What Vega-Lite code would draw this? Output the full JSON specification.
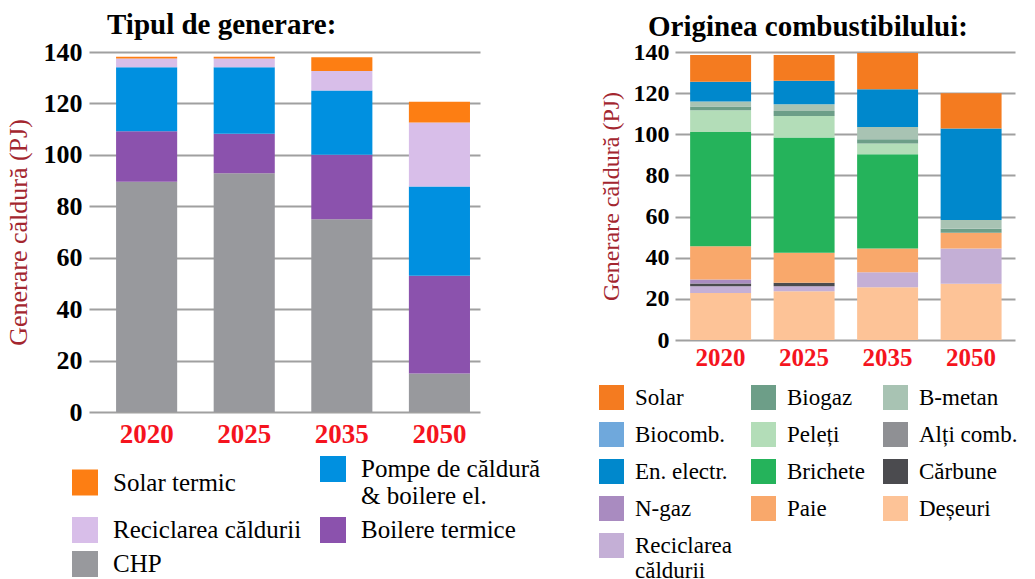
{
  "$schema": "https://vega.github.io/schema/vega-lite/v6.json",
  "autosize": {"type": "pad"},
  "padding": {"left": 5, "top": 11, "right": 0, "bottom": 0},
  "background": "white",
  "config": {
    "view": {"stroke": null},
    "font": "Liberation Serif",
    "axis": {"labelFont": "Liberation Serif", "titleFont": "Liberation Serif"},
    "legend": {"labelFont": "Liberation Serif"},
    "title": {"font": "Liberation Serif"}
  },
  "datasets": {
    "gen": [
      {"year": "2020", "type": "CHP", "rank": 1, "value": 89.5},
      {"year": "2020", "type": "Boilere termice", "rank": 2, "value": 19.7},
      {"year": "2020", "type": "Pompe de căldură & boilere el.", "rank": 3, "value": 24.9},
      {"year": "2020", "type": "Reciclarea căldurii", "rank": 4, "value": 3.4},
      {"year": "2020", "type": "Solar termic", "rank": 5, "value": 0.7},
      {"year": "2025", "type": "CHP", "rank": 1, "value": 92.8},
      {"year": "2025", "type": "Boilere termice", "rank": 2, "value": 15.4},
      {"year": "2025", "type": "Pompe de căldură & boilere el.", "rank": 3, "value": 25.9},
      {"year": "2025", "type": "Reciclarea căldurii", "rank": 4, "value": 3.4},
      {"year": "2025", "type": "Solar termic", "rank": 5, "value": 0.7},
      {"year": "2035", "type": "CHP", "rank": 1, "value": 75.0},
      {"year": "2035", "type": "Boilere termice", "rank": 2, "value": 25.0},
      {"year": "2035", "type": "Pompe de căldură & boilere el.", "rank": 3, "value": 25.0},
      {"year": "2035", "type": "Reciclarea căldurii", "rank": 4, "value": 7.6},
      {"year": "2035", "type": "Solar termic", "rank": 5, "value": 5.4},
      {"year": "2050", "type": "CHP", "rank": 1, "value": 15.0},
      {"year": "2050", "type": "Boilere termice", "rank": 2, "value": 38.0},
      {"year": "2050", "type": "Pompe de căldură & boilere el.", "rank": 3, "value": 34.7},
      {"year": "2050", "type": "Reciclarea căldurii", "rank": 4, "value": 24.9},
      {"year": "2050", "type": "Solar termic", "rank": 5, "value": 8.1}
    ],
    "fuel": [
      {"year": "2020", "type": "Deșeuri", "rank": 1, "value": 22.9},
      {"year": "2020", "type": "Reciclarea căldurii", "rank": 2, "value": 3.2},
      {"year": "2020", "type": "Cărbune", "rank": 3, "value": 1.4},
      {"year": "2020", "type": "N-gaz", "rank": 4, "value": 1.9},
      {"year": "2020", "type": "Paie", "rank": 5, "value": 16.2},
      {"year": "2020", "type": "Brichete", "rank": 6, "value": 55.5},
      {"year": "2020", "type": "Peleți", "rank": 7, "value": 10.6},
      {"year": "2020", "type": "Biogaz", "rank": 8, "value": 1.8},
      {"year": "2020", "type": "B-metan", "rank": 9, "value": 2.4},
      {"year": "2020", "type": "En. electr.", "rank": 12, "value": 9.6},
      {"year": "2020", "type": "Solar", "rank": 13, "value": 13.0},
      {"year": "2025", "type": "Deșeuri", "rank": 1, "value": 23.7},
      {"year": "2025", "type": "Reciclarea căldurii", "rank": 2, "value": 2.4},
      {"year": "2025", "type": "Cărbune", "rank": 3, "value": 1.7},
      {"year": "2025", "type": "Paie", "rank": 5, "value": 14.6},
      {"year": "2025", "type": "Brichete", "rank": 6, "value": 56.0},
      {"year": "2025", "type": "Peleți", "rank": 7, "value": 10.5},
      {"year": "2025", "type": "Biogaz", "rank": 8, "value": 2.4},
      {"year": "2025", "type": "B-metan", "rank": 9, "value": 3.3},
      {"year": "2025", "type": "En. electr.", "rank": 12, "value": 11.4},
      {"year": "2025", "type": "Solar", "rank": 13, "value": 12.5},
      {"year": "2035", "type": "Deșeuri", "rank": 1, "value": 25.6},
      {"year": "2035", "type": "Reciclarea căldurii", "rank": 2, "value": 7.3},
      {"year": "2035", "type": "Paie", "rank": 5, "value": 11.6},
      {"year": "2035", "type": "Brichete", "rank": 6, "value": 45.8},
      {"year": "2035", "type": "Peleți", "rank": 7, "value": 5.2},
      {"year": "2035", "type": "Biogaz", "rank": 8, "value": 2.1},
      {"year": "2035", "type": "B-metan", "rank": 9, "value": 6.0},
      {"year": "2035", "type": "En. electr.", "rank": 12, "value": 18.3},
      {"year": "2035", "type": "Solar", "rank": 13, "value": 17.6},
      {"year": "2050", "type": "Deșeuri", "rank": 1, "value": 27.4},
      {"year": "2050", "type": "Reciclarea căldurii", "rank": 2, "value": 17.1},
      {"year": "2050", "type": "Paie", "rank": 5, "value": 7.6},
      {"year": "2050", "type": "Biogaz", "rank": 8, "value": 2.0},
      {"year": "2050", "type": "B-metan", "rank": 9, "value": 4.2},
      {"year": "2050", "type": "En. electr.", "rank": 12, "value": 44.5},
      {"year": "2050", "type": "Solar", "rank": 13, "value": 17.2}
    ]
  },
  "bounds": "flush",
  "spacing": 195,
  "resolve": {"scale": {"color": "independent", "x": "independent", "y": "independent"}},
  "hconcat": [
    {
      "width": 391,
      "height": 360,
      "data": {"name": "gen"},
      "title": {"text": "Tipul de generare:", "anchor": "start", "frame": "group", "dx": 18, "offset": -24, "baseline": "alphabetic", "fontSize": 29, "fontWeight": "bold", "color": "black"},
      "mark": {"type": "bar"},
      "encoding": {
        "x": {
          "field": "year", "type": "nominal",
          "scale": {"paddingInner": 0.374, "paddingOuter": 0.19, "align": 0.73},
          "axis": {"title": null, "labelAngle": 0, "labelColor": "#f5141e", "labelFontSize": 27, "labelFontWeight": "bold", "domain": false, "ticks": false, "labelPadding": 9}
        },
        "y": {
          "field": "value", "type": "quantitative", "stack": "zero",
          "scale": {"domain": [0, 140], "nice": false},
          "axis": {"values": [0, 20, 40, 60, 80, 100, 120, 140], "title": "Generare căldură (PJ)", "titleColor": "#a3262f", "titleFontSize": 26, "titleFontWeight": "normal", "titlePadding": 12, "labelFontSize": 26, "labelFontWeight": "bold", "labelColor": "black", "domain": false, "ticks": false, "labelPadding": 7, "gridColor": "#a0a0a0", "gridWidth": 2}
        },
        "color": {
          "field": "type", "type": "nominal",
          "scale": {
            "domain": ["Solar termic", "Pompe de căldură & boilere el.", "Reciclarea căldurii", "Boilere termice", "CHP"],
            "range": ["#fd7e13", "#0090e0", "#d8bee9", "#8b52ad", "#98999d"]
          },
          "legend": {
            "orient": "none", "legendX": -17, "legendY": 404, "title": null, "columns": 2, "direction": "horizontal", "padding": 0,
            "symbolType": "square", "symbolSize": 676, "symbolStrokeWidth": 0, "symbolOpacity": 1,
            "labelFontSize": 25, "labelColor": "black", "labelOffset": 15, "labelLimit": 400,
            "columnPadding": 18, "rowPadding": 8,
            "labelExpr": "datum.label == 'Pompe de căldură & boilere el.' ? ['Pompe de căldură', '& boilere el.'] : datum.label"
          }
        },
        "order": {"field": "rank", "type": "quantitative"}
      }
    },
    {
      "width": 340,
      "height": 288,
      "data": {"name": "fuel"},
      "title": {"text": "Originea combustibilului:", "anchor": "start", "frame": "group", "dx": -27, "offset": -25, "baseline": "alphabetic", "fontSize": 29, "fontWeight": "bold", "color": "black"},
      "mark": {"type": "bar"},
      "encoding": {
        "x": {
          "field": "year", "type": "nominal",
          "scale": {"paddingInner": 0.27, "paddingOuter": 0.171, "align": 0.53},
          "axis": {"title": null, "labelAngle": 0, "labelColor": "#f5141e", "labelFontSize": 25, "labelFontWeight": "bold", "domain": false, "ticks": false, "labelPadding": 5}
        },
        "y": {
          "field": "value", "type": "quantitative", "stack": "zero",
          "scale": {"domain": [0, 140], "nice": false},
          "axis": {"values": [0, 20, 40, 60, 80, 100, 120, 140], "title": "Generare căldură (PJ)", "titleColor": "#a3262f", "titleFontSize": 24, "titleFontWeight": "normal", "titlePadding": 10, "labelFontSize": 24, "labelFontWeight": "bold", "labelColor": "black", "domain": false, "ticks": false, "labelPadding": 6, "gridColor": "#a0a0a0", "gridWidth": 2}
        },
        "color": {
          "field": "type", "type": "nominal",
          "scale": {
            "domain": ["Solar", "Biogaz", "B-metan", "Biocomb.", "Peleți", "Alți comb.", "En. electr.", "Brichete", "Cărbune", "N-gaz", "Paie", "Deșeuri", "Reciclarea căldurii"],
            "range": ["#f47b20", "#6d9e88", "#a8c3b3", "#6fa8dc", "#b3ddb8", "#8f9094", "#0088cc", "#25b35b", "#4b4b4f", "#a98bc0", "#f9a86b", "#fdc397", "#c4afd6"]
          },
          "legend": {
            "orient": "none", "legendX": -76, "legendY": 333, "title": null, "columns": 3, "direction": "horizontal", "padding": 0, "gridAlign": "each",
            "symbolType": "square", "symbolSize": 625, "symbolStrokeWidth": 0, "symbolOpacity": 1,
            "labelFontSize": 23, "labelColor": "black", "labelOffset": 11, "labelLimit": 400,
            "columnPadding": 18, "rowPadding": 12,
            "labelExpr": "datum.label == 'Reciclarea căldurii' ? ['Reciclarea', 'căldurii'] : datum.label"
          }
        },
        "order": {"field": "rank", "type": "quantitative"}
      }
    }
  ]
}
